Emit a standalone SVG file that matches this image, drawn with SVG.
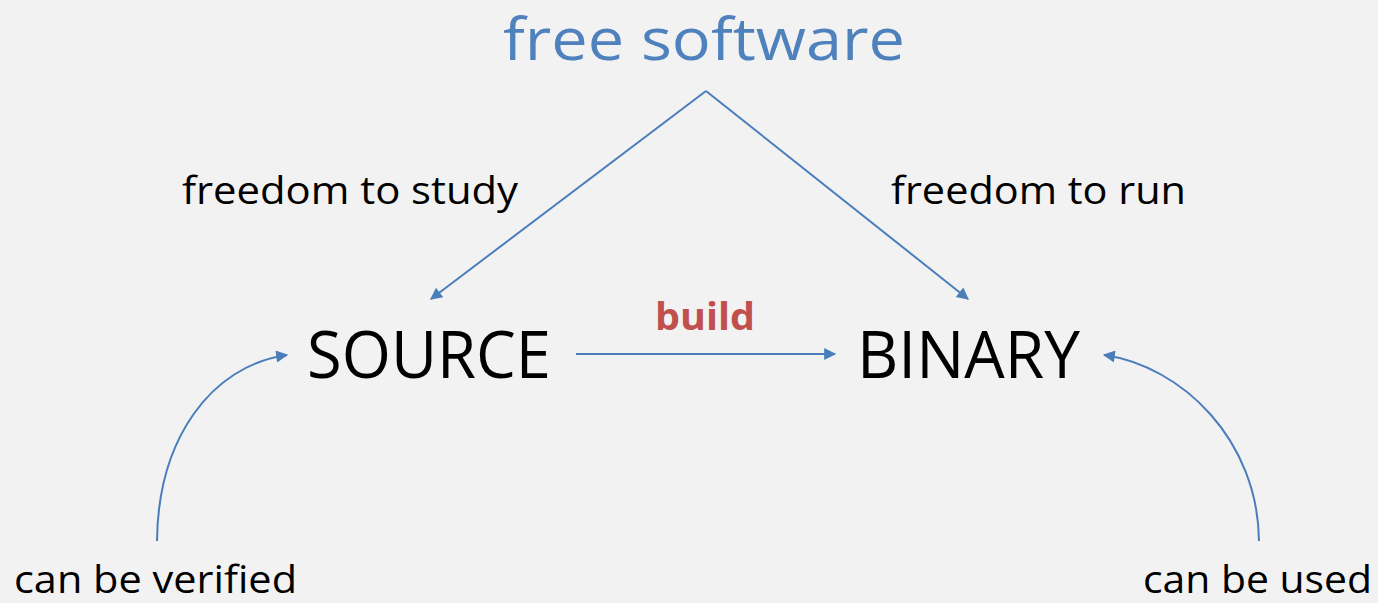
<svg xmlns="http://www.w3.org/2000/svg" width="1378" height="603" viewBox="0 0 1378 603">
<style>
text{font-family:"Open Sans","Liberation Sans",sans-serif;fill:#000}
.lbl{font-size:38px}
.big{font-size:66px}
.title{font-size:58px;fill:#4f81bd}
.build{font-size:37px;font-weight:bold;fill:#c0504d}
.conn{fill:none;stroke:#4a7ebb;stroke-width:2;marker-end:url(#ah)}
</style>
<defs>
<marker id="ah" viewBox="0 0 10 10" refX="9" refY="5" markerWidth="7" markerHeight="6" markerUnits="strokeWidth" orient="auto">
<path d="M0,0 L10,5 L0,10 z" fill="#4a7ebb"/>
</marker>
</defs>
<rect width="1378" height="603" fill="#f2f2f2"/>
<g id="connectors">
<path class="conn" d="M706,91 L431,299"/>
<path class="conn" d="M706,91 L968,299"/>
<path class="conn" d="M576,354 L835,354"/>
<path class="conn" d="M157,541 C158,440 210,366 287,355"/>
<path class="conn" d="M1259,541 C1258,440 1182,366 1104,355"/>
</g>
<g id="free-software"><text class="title" x="503" y="60" textLength="402" lengthAdjust="spacingAndGlyphs">free software</text></g>
<g id="freedom-study"><text class="lbl" x="182" y="204" textLength="336" lengthAdjust="spacingAndGlyphs">freedom to study</text></g>
<g id="freedom-run"><text class="lbl" x="891" y="204" textLength="295" lengthAdjust="spacingAndGlyphs">freedom to run</text></g>
<g id="source"><text class="big" x="307" y="378" textLength="244" lengthAdjust="spacingAndGlyphs">SOURCE</text></g>
<g id="binary"><text class="big" x="857" y="378" textLength="223" lengthAdjust="spacingAndGlyphs">BINARY</text></g>
<g id="build"><text class="build" x="655" y="330" textLength="100" lengthAdjust="spacingAndGlyphs">build</text></g>
<g id="verified"><text class="lbl" x="14" y="593" textLength="283" lengthAdjust="spacingAndGlyphs">can be verified</text></g>
<g id="used"><text class="lbl" x="1143" y="593" textLength="229" lengthAdjust="spacingAndGlyphs">can be used</text></g>
</svg>
